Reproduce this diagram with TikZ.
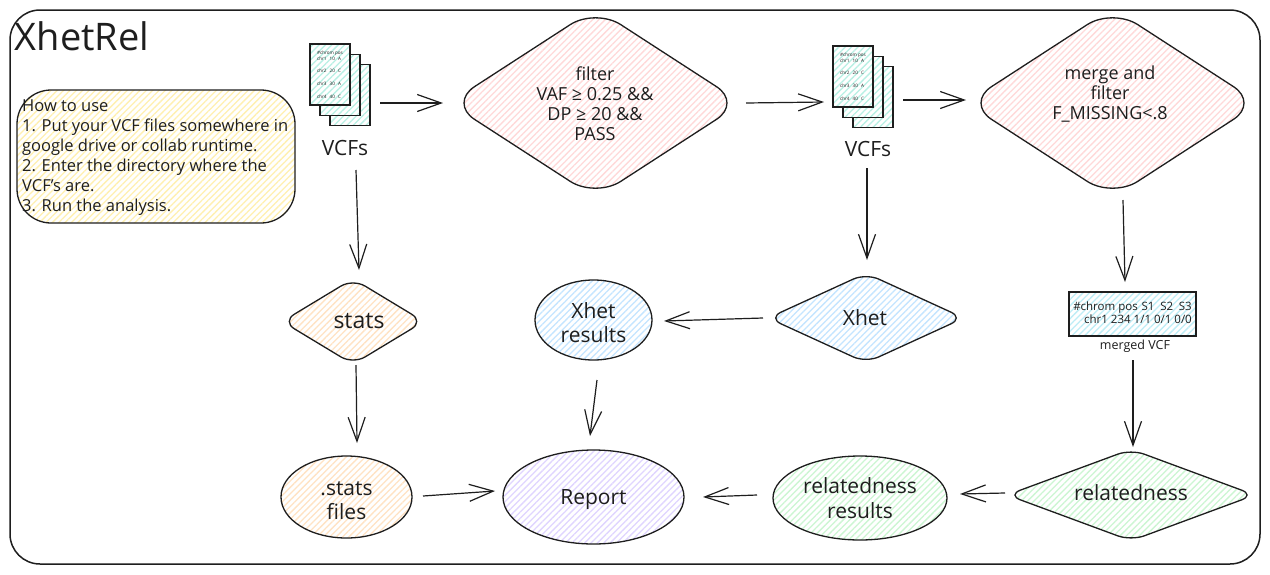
\documentclass[tikz,border=0pt]{standalone}
\usepackage{fontspec}
\setmainfont{Open Sans}
\usetikzlibrary{shapes.geometric,arrows.meta,patterns.meta}
\definecolor{ink}{HTML}{1E1E1E}
\definecolor{cPink}{HTML}{FFD9D9}
\definecolor{cOrange}{HTML}{FFE3C4}
\definecolor{cBlue}{HTML}{C4E5FF}
\definecolor{cGreen}{HTML}{CCF6D2}
\definecolor{cPurple}{HTML}{E0D5FF}
\definecolor{cYellow}{HTML}{FFF0B0}
\definecolor{cTeal}{HTML}{B8F0E4}
\definecolor{cCyan}{HTML}{BDEDF6}
\newcommand{\lowerstrut}{\rule{0pt}{21pt}}
\tikzset{
  hach/.style={preaction={fill=white},pattern={Lines[angle=45,distance=4.5pt,line width=1.3pt]},pattern color=#1},
  outline/.style={draw=ink,line width=1.3pt,text=ink},
  dia/.style 2 args={outline,hach=#1,diamond,inner sep=0pt,rounded corners=#2},
  ell/.style={outline,hach=#1,ellipse,inner sep=0pt,align=center,font=\fontsize{21}{24.5}\selectfont},
  docpage/.style={draw=ink,line width=1.3pt,hach=cTeal,minimum width=40pt,minimum height=61pt,inner sep=0pt},
  tiny/.style={text=ink,inner sep=0pt,font=\fontsize{4.6}{6}\selectfont},
  arr/.style={draw=ink,line width=1.2pt,-{Straight Barb[length=24pt,width=17pt,line width=1.2pt]}},
  lbl/.style={text=ink,inner sep=0pt,align=center},
}
\begin{document}
\begin{tikzpicture}[x=1pt,y=-1pt]
\useasboundingbox (0,0) rectangle (1270,574);
\fill[white] (0,0) rectangle (1270,574);
\node[outline,rounded corners=30pt,line width=1.5pt,minimum width=1250pt,minimum height=554pt,inner sep=0pt] (frame) at (635,287) {};
\node[lbl,font=\fontsize{38}{42}\selectfont] (title) at (82,36) {XhetRel};
% how to use
\node[outline,hach=cYellow,rounded corners=34pt,minimum width=278pt,minimum height=133pt,inner sep=0pt] (note) at (156,156.5) {};
\node[text=ink,inner sep=0pt,align=left,anchor=north west,font=\fontsize{16.5}{20}\selectfont] (notetext) at (22,100) {How to use\\1. Put your VCF files somewhere in\\google drive or collab runtime.\\2. Enter the directory where the\\VCF's are.\\3. Run the analysis.};
% first stack
\node[docpage] (aback) at (350,95) {};
\node[docpage] (amid) at (340,85) {};
\node[docpage] (afront) at (330,74.5) {};
\node[tiny] (a0) at (330,53) {\#chrom pos};
\node[tiny] (a1) at (329,59) {chr1\,\,\,\,10\,\,\,\,A};
\node[tiny] (a2) at (329,71) {chr2\,\,\,\,20\,\,\,\,C};
\node[tiny] (a3) at (329,84) {chr3\,\,\,\,30\,\,\,\,A};
\node[tiny] (a4) at (329,97) {chr4\,\,\,\,40\,\,\,\,C};
\node[lbl,font=\fontsize{21}{24}\selectfont] (vcfa) at (345,148) {VCFs};
% filter
\node[dia={cPink}{30pt},minimum width=293pt,minimum height=190pt,aspect=1.54] (filter) at (595.5,103) {};
\node[lbl,font=\fontsize{18}{20}\selectfont] (filtertext) at (595,104) {filter\\VAF ≥ 0.25 \&\&\\DP ≥ 20 \&\&\\PASS};
% second stack
\node[docpage] (bback) at (873,97) {};
\node[docpage] (bmid) at (863,87) {};
\node[docpage] (bfront) at (853,76.5) {};
\node[tiny] (b0) at (853,55) {\#chrom pos};
\node[tiny] (b1) at (852,61) {chr1\,\,\,\,10\,\,\,\,A};
\node[tiny] (b2) at (852,73) {chr2\,\,\,\,20\,\,\,\,C};
\node[tiny] (b3) at (852,86) {chr3\,\,\,\,30\,\,\,\,A};
\node[tiny] (b4) at (852,99) {chr4\,\,\,\,40\,\,\,\,C};
\node[lbl,font=\fontsize{21}{24}\selectfont] (vcfb) at (868,149) {VCFs};
% merge
\node[dia={cPink}{30pt},minimum width=293pt,minimum height=190pt,aspect=1.54] (merge) at (1112.5,103) {};
\node[lbl,font=\fontsize{18}{20}\selectfont] (mergetext) at (1110,94) {merge and\\filter\\F\_MISSING<.8};
% middle row
\node[dia={cOrange}{14pt},minimum width=142pt,minimum height=86pt,aspect=1.65] (stats) at (353,321.5) {};
\node[lbl,font=\fontsize{23}{26}\selectfont] (statstext) at (359,321) {stats};
\node[ell=cBlue,minimum width=117pt,minimum height=80pt] (xres) at (593.5,320) {\lowerstrut Xhet\\results};
\node[dia={cBlue}{14pt},minimum width=196pt,minimum height=90pt,aspect=2.18] (xhet) at (866,318) {};
\node[lbl,font=\fontsize{21}{24}\selectfont] (xhettext) at (865,318) {Xhet};
\node[draw=ink,line width=1.3pt,hach=cCyan,minimum width=127pt,minimum height=44pt,inner sep=0pt] (mvcf) at (1132.5,314) {};
\node[text=ink,inner sep=0pt,anchor=east,font=\fontsize{11.5}{13}\selectfont] (mvcfa) at (1192,308) {\#chrom pos\,\,S1\,\,\,S2\,\,\,S3};
\node[text=ink,inner sep=0pt,anchor=east,font=\fontsize{11.5}{13}\selectfont] (mvcfb) at (1192,319) {chr1 234 1/1 0/1 0/0};
\node[lbl,font=\fontsize{12.5}{14}\selectfont] (mvcfl) at (1135,346) {merged VCF};
% bottom row
\node[ell=cOrange,minimum width=131pt,minimum height=82pt] (sfiles) at (346.5,497) {\lowerstrut .stats\\files};
\node[ell=cPurple,minimum width=181pt,minimum height=94pt] (report) at (593.5,497) {\lowerstrut Report};
\node[ell=cGreen,minimum width=174pt,minimum height=84pt] (rres) at (860,498) {relatedness\\results};
\node[dia={cGreen}{14pt},minimum width=248pt,minimum height=92pt,aspect=2.7] (rel) at (1131,495) {};
\node[lbl,font=\fontsize{21}{24}\selectfont] (reltext) at (1131,493) {relatedness};
% connectors
\draw[arr] ([shift={(50,28.5)}]afront.center) -- ([shift={(-152.5,0)}]filter.center);
\draw[arr] ([shift={(11,22)}]vcfa.center) -- ([shift={(6,-51.5)}]stats.center);
\draw[arr] ([shift={(150.5,0)}]filter.center) -- ([shift={(-29,25.5)}]bfront.center);
\draw[arr] ([shift={(50,23.5)}]bfront.center) -- ([shift={(-146.5,-3)}]merge.center);
\draw[arr] ([shift={(-1,19)}]vcfb.center) -- ([shift={(1,-58)}]xhet.center);
\draw[arr] ([shift={(10.5,97)}]merge.center) -- ([shift={(-7.5,-32)}]mvcf.center);
\draw[arr] ([shift={(-103,0)}]xhet.center) -- ([shift={(70.5,1)}]xres.center);
\draw[arr] ([shift={(3.5,60)}]xres.center) -- ([shift={(-3.5,-61)}]report.center);
\draw[arr] ([shift={(3,43.5)}]stats.center) -- ([shift={(10.5,-54)}]sfiles.center);
\draw[arr] ([shift={(76.5,-1)}]sfiles.center) -- ([shift={(-98.5,-6)}]report.center);
\draw[arr] ([shift={(0.5,46)}]mvcf.center) -- ([shift={(2,-48)}]rel.center);
\draw[arr] ([shift={(-126,-2)}]rel.center) -- ([shift={(100,-4)}]rres.center);
\draw[arr] ([shift={(-103,-3)}]rres.center) -- ([shift={(109.5,0)}]report.center);
\end{tikzpicture}
\end{document}
